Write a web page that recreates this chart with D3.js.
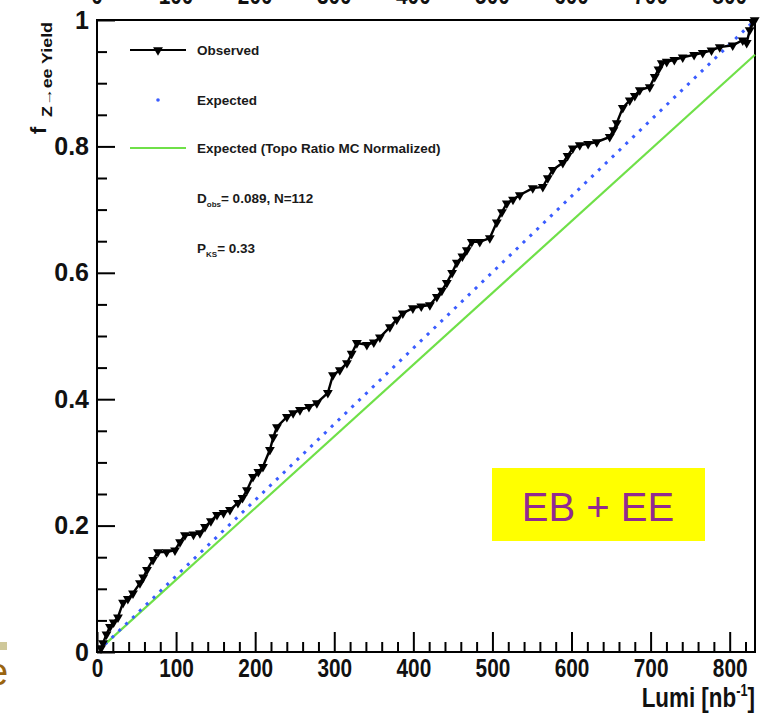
<!DOCTYPE html>
<html>
<head>
<meta charset="utf-8">
<script src="https://cdn.jsdelivr.net/npm/d3@7"></script>
<style>
  html, body { margin: 0; padding: 0; background: #fff; }
  svg { display: block; }
  text { font-family: "Liberation Sans", Arial, Helvetica, sans-serif; }
</style>
</head>
<body>
<svg id="chart" width="766" height="715"></svg>
<script>
// Cumulative fraction of Z->ee yield versus integrated luminosity
const obsLumi = [5.1, 7.6, 12.0, 16.4, 21.0, 26.5, 32.9, 39.0, 45.5, 54.3,
  58.5, 63.2, 70.8, 77.1, 88.0, 98.6, 105.0, 111.2, 122.0, 130.2,
  136.5, 144.0, 151.7, 160.0, 168.1, 178.2, 184.0, 189.6, 197.2, 204.0,
  209.8, 218.6, 223.0, 227.5, 240.1, 248.0, 256.6, 268.0, 278.0, 291.9,
  298.3, 307.0, 316.0, 322.0, 328.6, 341.2, 350.0, 357.7, 370.3, 379.0,
  386.7, 399.4, 410.0, 420.9, 429.7, 436.0, 442.3, 449.0, 455.0, 462.0,
  467.6, 473.9, 484.0, 496.7, 505.5, 512.0, 518.2, 526.0, 534.6, 551.0,
  563.7, 570.0, 576.3, 589.0, 595.0, 601.6, 610.4, 621.0, 631.9, 648.3,
  653.0, 657.2, 664.8, 673.6, 680.0, 686.3, 698.9, 705.2, 710.0, 714.1,
  720.4, 730.0, 740.6, 755.0, 765.9, 777.0, 787.4, 803.8, 816.5, 821.5,
  825.3, 829.1, 831.6];
const obsFrac = [0.006, 0.014, 0.028, 0.040, 0.047, 0.055, 0.078, 0.084, 0.093, 0.109,
  0.118, 0.130, 0.146, 0.158, 0.158, 0.161, 0.174, 0.185, 0.186, 0.188,
  0.198, 0.207, 0.217, 0.220, 0.225, 0.236, 0.244, 0.256, 0.277, 0.285,
  0.293, 0.320, 0.340, 0.356, 0.372, 0.378, 0.383, 0.388, 0.394, 0.410,
  0.438, 0.446, 0.457, 0.472, 0.489, 0.486, 0.490, 0.498, 0.514, 0.526,
  0.536, 0.544, 0.547, 0.549, 0.562, 0.572, 0.584, 0.600, 0.616, 0.626,
  0.636, 0.649, 0.649, 0.655, 0.680, 0.696, 0.710, 0.716, 0.723, 0.734,
  0.736, 0.750, 0.763, 0.774, 0.785, 0.797, 0.802, 0.804, 0.807, 0.815,
  0.826, 0.837, 0.861, 0.873, 0.880, 0.889, 0.894, 0.910, 0.922, 0.932,
  0.934, 0.937, 0.941, 0.945, 0.948, 0.952, 0.957, 0.960, 0.968, 0.964,
  0.984, 0.997, 1.000];

// Expected (flat luminosity) and expected with MC-normalised topology ratio
const expLumi = [10, 832];
const expFrac = [0.012, 1.0];
const topoLumi = [10, 832];
const topoFrac = [0.012, 0.945];

const xMajorTicks = [0, 100, 200, 300, 400, 500, 600, 700, 800];
const yMajorTicks = [0, 0.2, 0.4, 0.6, 0.8, 1];

const legendLabels = ["Observed", "Expected", "Expected (Topo Ratio MC Normalized)"];
const statsD = { main: "D", sub: "obs", rest: "= 0.089, N=112" };
const statsP = { main: "P", sub: "KS", rest: "= 0.33" };

const svg = d3.select("#chart");

const L = 97, R = 755, T = 20, B = 652;
const x = d3.scaleLinear().domain([0, 832]).range([L, R]);
const y = d3.scaleLinear().domain([0, 1]).range([B, T]);
const NARROW = 0.8;

// slide fragments at the edges of the image
svg.append("g").selectAll("text").data(xMajorTicks).join("text")
  .attr("transform", d => `translate(${x(d)},4) scale(${NARROW},1)`)
  .attr("text-anchor", "middle")
  .style("font-weight", "bold").style("font-size", "26px")
  .attr("fill", "#111")
  .text(d => d);
svg.append("rect").attr("x", 0).attr("y", 642).attr("width", 7).attr("height", 8).attr("fill", "#cfc89a");
svg.append("text").attr("x", -13).attr("y", 685)
  .style("font-size", "38px").attr("fill", "#9a6410").text("e");

// axes
const fmtY = d => d === 0 ? "0" : d === 1 ? "1" : d3.format(".1f")(d);

const xMinor = d3.range(0, 833, 20).filter(v => v % 100 !== 0);
svg.append("g").attr("transform", `translate(0,${B})`)
  .call(d3.axisBottom(x).tickValues(xMinor).tickSize(-10).tickFormat(""))
  .call(g => g.select(".domain").remove())
  .call(g => g.selectAll("line").attr("stroke", "#000").attr("stroke-width", 2));

svg.append("g").attr("transform", `translate(0,${B})`)
  .call(d3.axisBottom(x).tickValues(xMajorTicks).tickSize(-20).tickPadding(7).tickFormat(d => d))
  .call(g => g.select(".domain").remove())
  .call(g => g.selectAll("line").attr("stroke", "#000").attr("stroke-width", 2))
  .call(g => g.selectAll("text")
    .attr("transform", `scale(${NARROW},1)`)
    .style("font-weight", "bold").style("font-size", "26px").attr("fill", "#111"));

const yMinor = d3.range(0, 1.001, 0.05).filter(v => Math.abs(v * 5 - Math.round(v * 5)) > 1e-6);
svg.append("g").attr("transform", `translate(${L},0)`)
  .call(d3.axisLeft(y).tickValues(yMinor).tickSize(-10).tickFormat(""))
  .call(g => g.select(".domain").remove())
  .call(g => g.selectAll("line").attr("stroke", "#000").attr("stroke-width", 2));

svg.append("g").attr("transform", `translate(${L},0)`)
  .call(d3.axisLeft(y).tickValues(yMajorTicks).tickSize(-18).tickPadding(8).tickFormat(fmtY))
  .call(g => g.select(".domain").remove())
  .call(g => g.selectAll("line").attr("stroke", "#000").attr("stroke-width", 2))
  .call(g => g.selectAll("text")
    .style("font-weight", "bold").style("font-size", "25px").attr("fill", "#111"));

// frame
svg.append("rect").attr("x", L).attr("y", T).attr("width", R - L).attr("height", B - T)
  .attr("fill", "none").attr("stroke", "#000").attr("stroke-width", 2);

// axis titles
const xt = svg.append("text").attr("transform", `translate(${R},707) scale(${NARROW},1)`)
  .attr("text-anchor", "end")
  .style("font-weight", "bold").style("font-size", "28px").attr("fill", "#111");
xt.append("tspan").text("Lumi [nb");
xt.append("tspan").attr("dy", -11).style("font-size", "16px").text("-1");
xt.append("tspan").attr("dy", 11).text("]");

svg.append("text").attr("transform", "translate(46,134) rotate(-90)")
  .style("font-weight", "bold").style("font-size", "22px").attr("fill", "#111").text("f");
svg.append("text").attr("transform", "translate(52,117) rotate(-90)")
  .style("font-weight", "bold").style("font-size", "14px").attr("fill", "#111")
  .attr("textLength", 95).attr("lengthAdjust", "spacingAndGlyphs")
  .text("Z\u2192ee Yield");

// curves
const line = d3.line().x(d => x(d[0])).y(d => y(d[1]));

svg.append("path").datum(d3.zip(topoLumi, topoFrac)).attr("d", line)
  .attr("fill", "none").attr("stroke", "#6fe048").attr("stroke-width", 2.2);

svg.append("path").datum(d3.zip(expLumi, expFrac)).attr("d", line)
  .attr("fill", "none").attr("stroke", "#3a5cff").attr("stroke-width", 3)
  .attr("stroke-dasharray", "3 6.5");

const obs = d3.zip(obsLumi, obsFrac);
svg.append("path").datum(obs).attr("d", line)
  .attr("fill", "none").attr("stroke", "#000").attr("stroke-width", 2.4);

const tri = d3.symbol().type(d3.symbolTriangle).size(42);
svg.append("g").selectAll("path").data(obs).join("path")
  .attr("d", tri)
  .attr("transform", d => `translate(${x(d[0])},${y(d[1])}) rotate(180)`)
  .attr("fill", "#000");

// legend
const lg = svg.append("g");
lg.append("line").attr("x1", 130).attr("x2", 186).attr("y1", 50).attr("y2", 50)
  .attr("stroke", "#000").attr("stroke-width", 2.2);
lg.append("path").attr("d", tri).attr("transform", "translate(158,50) rotate(180)").attr("fill", "#000");
lg.append("circle").attr("cx", 158).attr("cy", 100).attr("r", 1.8).attr("fill", "#3a5cff");
lg.append("line").attr("x1", 130).attr("x2", 186).attr("y1", 148).attr("y2", 148)
  .attr("stroke", "#6fe048").attr("stroke-width", 2.2);

const legY = [50, 100, 148];
lg.selectAll("text.lab").data(legendLabels).join("text").attr("class", "lab")
  .attr("x", 197).attr("y", (d, i) => legY[i] + 5)
  .style("font-weight", "bold").style("font-size", "13.5px").attr("fill", "#1a1a1a")
  .text(d => d);

[[statsD, 198], [statsP, 248]].forEach(([s, yy]) => {
  const t = lg.append("text").attr("x", 197).attr("y", yy + 5)
    .style("font-weight", "bold").style("font-size", "13.5px").attr("fill", "#1a1a1a");
  t.append("tspan").text(s.main);
  t.append("tspan").attr("dy", 4).style("font-size", "8px").text(s.sub);
  t.append("tspan").attr("dy", -4).text(s.rest);
});

// region tag
svg.append("rect").attr("x", 492).attr("y", 468).attr("width", 213).attr("height", 73).attr("fill", "#ffff00");
svg.append("text").attr("x", 598).attr("y", 521).attr("text-anchor", "middle")
  .style("font-size", "40px").attr("fill", "#912a91").text("EB + EE");
</script>
</body>
</html>
